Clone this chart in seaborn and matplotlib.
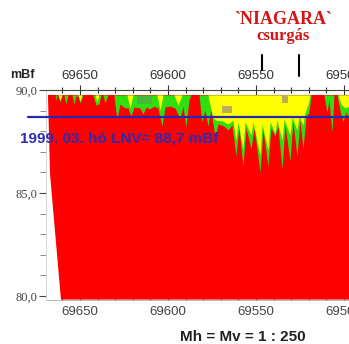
import matplotlib
matplotlib.use("Agg")
import matplotlib.pyplot as plt
from matplotlib.ticker import MultipleLocator, FuncFormatter
import seaborn as sns

sns.set_theme(style="white")
plt.rcParams["font.family"] = ["Liberation Sans", "DejaVu Sans"]

# ---------------------------------------------------------------------------
# Section values (chainage, elevation in mBf)
# ---------------------------------------------------------------------------
TOP = 89.76     # top of the section
BASE = 79.82    # bottom of the section
LNV = 88.7      # 1999.03 low water level

# red body: slanted left edge
RED_EDGE_X = [69668.2, 69667.0, 69660.8]
RED_EDGE_Y = [TOP, 85.9, BASE]

# lower boundary of the green zone
GREEN_X = [69668.2, 69664.2, 69663.6, 69663.1, 69662.5, 69661.4, 69660.2, 69659.1, 69658.0, 69656.8,
           69654.5, 69653.4, 69652.3, 69651.1, 69650.0, 69648.3, 69642.6, 69640.9, 69639.2, 69638.1,
           69636.9, 69635.8, 69634.1, 69630.7, 69629.0, 69627.3, 69624.4, 69622.7, 69621.0, 69619.3,
           69615.9, 69614.2, 69612.5, 69610.2, 69608.0, 69605.7, 69603.4, 69601.7, 69598.9, 69596.0,
           69593.2, 69591.5, 69589.8, 69588.1, 69586.9, 69582.4, 69580.7, 69579.0, 69577.3, 69575.6,
           69573.3, 69571.6, 69568.2, 69565.9, 69563.6, 69561.4, 69559.7, 69557.4, 69555.7, 69552.8,
           69551.1, 69547.7, 69546.0, 69543.2, 69541.5, 69539.2, 69537.5, 69535.2, 69533.5, 69530.7,
           69529.0, 69526.7, 69525.0, 69523.3, 69521.6, 69519.9, 69518.7, 69511.4, 69509.7, 69508.5,
           69506.8, 69505.7, 69504.0, 69502.3, 69500.6, 69498.9, 69497.2]
GREEN_Y = [89.76, 89.76, 89.51, 89.76, 89.76, 89.42, 89.76, 89.76, 89.32, 89.76,
           89.76, 89.32, 89.71, 89.71, 89.37, 89.76, 89.76, 89.27, 89.32, 89.76,
           89.76, 89.37, 89.76, 89.76, 88.59, 89.32, 89.13, 89.13, 88.74, 89.17,
           89.13, 88.83, 89.17, 89.08, 89.22, 89.13, 88.25, 89.17, 89.22, 89.13,
           88.59, 89.22, 88.20, 89.51, 89.76, 89.76, 88.45, 89.03, 88.25, 89.03,
           87.72, 88.35, 88.25, 88.06, 88.30, 86.80, 88.16, 86.31, 88.16, 87.14,
           88.16, 86.02, 88.06, 86.31, 88.16, 87.77, 88.25, 86.17, 88.30, 86.55,
           88.45, 86.80, 88.54, 87.14, 88.69, 88.93, 89.76, 89.76, 88.93, 89.51,
           87.96, 89.76, 89.76, 89.03, 88.45, 88.93, 88.64]

# lower boundary of the yellow zone
YELLOW_X = [69668.2, 69662.5, 69661.4, 69660.2, 69651.1, 69650.0, 69648.9, 69641.5, 69640.3, 69639.2,
            69623.3, 69621.6, 69619.9, 69606.3, 69604.5, 69602.8, 69596.6, 69594.3, 69592.0, 69577.3,
            69576.1, 69574.4, 69572.7, 69569.3, 69565.9, 69563.1, 69561.4, 69560.2, 69557.4, 69556.3,
            69552.8, 69551.7, 69547.7, 69546.6, 69543.2, 69542.0, 69539.2, 69538.1, 69535.2, 69534.1,
            69530.7, 69529.5, 69526.7, 69525.6, 69523.3, 69522.2, 69520.5, 69519.3, 69503.4, 69501.7,
            69499.4, 69497.2]
YELLOW_Y = [89.76, 89.76, 89.51, 89.76, 89.76, 89.47, 89.76, 89.76, 89.42, 89.76,
            89.76, 89.13, 89.76, 89.76, 89.03, 89.76, 89.76, 89.27, 89.76, 89.76,
            89.27, 88.64, 88.54, 88.50, 88.35, 88.54, 87.57, 88.45, 87.09, 88.45,
            87.82, 88.45, 86.84, 88.35, 87.09, 88.45, 87.91, 88.54, 87.57, 88.59,
            87.82, 88.69, 88.06, 88.74, 88.30, 88.88, 89.27, 89.76, 89.76, 89.32,
            89.13, 89.22]

# small darker patches inside the zones
PATCH_X0 = [69617.6, 69569.3, 69535.2]
PATCH_X1 = [69609.1, 69563.6, 69531.8]
PATCH_Y0 = [89.71, 89.22, 89.76]
PATCH_Y1 = [89.32, 88.88, 89.37]
PATCH_KIND = ["dark", "olive", "olive"]

# vertical markers of the "Niagara" reach
MARK_X = [69546.6, 69525.6]
MARK_Y0 = [91.70, 91.70]
MARK_Y1 = [90.97, 90.68]

X_LEFT, X_RIGHT = 69669.3, 69490.9
LNV_START = 69679.5

COLORS = {"red": "#ff0000", "green": "#2fe010", "yellow": "#ffff00",
          "dark": "#46b83a", "olive": "#b9ad55"}

fig = plt.figure(figsize=(3.49, 3.44), dpi=100)
ax = fig.add_axes([46 / 349, 44 / 344, 314 / 349, 210 / 344])

ax.fill(RED_EDGE_X + [X_RIGHT, X_RIGHT], RED_EDGE_Y + [BASE, TOP],
        color=COLORS["red"], lw=0, zorder=1)
ax.fill_between(GREEN_X, TOP, GREEN_Y, color=COLORS["green"], lw=0, zorder=2)
ax.fill_between(YELLOW_X, TOP, YELLOW_Y, color=COLORS["yellow"], lw=0, zorder=3)
for x0, x1, y0, y1, kind in zip(PATCH_X0, PATCH_X1, PATCH_Y0, PATCH_Y1, PATCH_KIND):
    ax.fill_between([x0, x1], y0, y1, color=COLORS[kind], lw=0, zorder=4)

# low water level line
ax.plot([LNV_START, X_RIGHT], [LNV, LNV], color="#2626b0", lw=1.6, zorder=5, clip_on=False)
ax.text(69684, 87.62, "1999. 03. hó LNV= 88,7 mBf", color="#2b2bb3",
        fontsize=11, fontweight="bold", ha="left", va="center", zorder=6, clip_on=False)

for mx, y0, y1 in zip(MARK_X, MARK_Y0, MARK_Y1):
    ax.plot([mx, mx], [y0, y1], color="black", lw=1.5, clip_on=False)

ax.set_xlim(X_LEFT, X_RIGHT)
ax.set_ylim(79.8, 90.0)

# top chainage axis
ax.xaxis.tick_top()
ax.xaxis.set_major_locator(MultipleLocator(50))
ax.xaxis.set_minor_locator(MultipleLocator(10))
ax.xaxis.set_major_formatter(FuncFormatter(lambda v, p: f"{v:.0f}"))
ax.tick_params(axis="x", which="major", direction="inout", length=7, width=0.8,
               colors="#333333", labelsize=9.5, pad=2)
ax.tick_params(axis="x", which="minor", direction="inout", length=5, width=0.8, colors="#333333")

# bottom chainage axis
sec = ax.secondary_xaxis("bottom")
sec.xaxis.set_major_locator(MultipleLocator(50))
sec.xaxis.set_minor_locator(MultipleLocator(10))
sec.xaxis.set_major_formatter(FuncFormatter(lambda v, p: f"{v:.0f}"))
sec.tick_params(axis="x", which="both", direction="in", length=4, width=0.7,
                colors="#444444", labelsize=9.5, pad=4)
sec.spines["bottom"].set_color("#aaaaaa")
sec.spines["bottom"].set_linewidth(0.6)

# elevation axis
ax.yaxis.set_major_locator(MultipleLocator(5))
ax.yaxis.set_minor_locator(MultipleLocator(1))
ax.yaxis.set_major_formatter(FuncFormatter(lambda v, p: f"{v:.1f}".replace(".", ",")))
ax.tick_params(axis="y", which="major", direction="out", length=5, width=0.8,
               colors="#444444", labelsize=9, pad=1, left=True)
ax.tick_params(axis="y", which="minor", direction="out", length=4, width=0.7,
               colors="#888888", left=True)
for lab in ax.get_yticklabels():
    lab.set_fontfamily(["Liberation Serif", "DejaVu Serif"])

ax.spines["top"].set_color("#444444")
ax.spines["top"].set_linewidth(0.8)
ax.spines["left"].set_color("#cccccc")
ax.spines["left"].set_linewidth(0.6)
ax.spines["bottom"].set_visible(False)
ax.spines["right"].set_visible(False)

fig.text(22 / 349, 1 - 75 / 344, "mBf", fontsize=9, fontweight="bold",
         ha="center", va="center", color="#222222")
fig.text(283 / 349, 1 - 20 / 344, "`NIAGARA`", fontsize=13, fontweight="bold",
         family=["Liberation Serif", "DejaVu Serif"], color="#d41515", ha="center", va="center")
fig.text(283 / 349, 1 - 36 / 344, "csurgás", fontsize=12, fontweight="bold",
         family=["Liberation Serif", "DejaVu Serif"], color="#d41515", ha="center", va="center")
fig.text(243 / 349, 1 - 337 / 344, "Mh = Mv = 1 : 250", fontsize=11, fontweight="bold",
         ha="center", va="center", color="#222222")

fig.savefig("out.png", dpi=100)
